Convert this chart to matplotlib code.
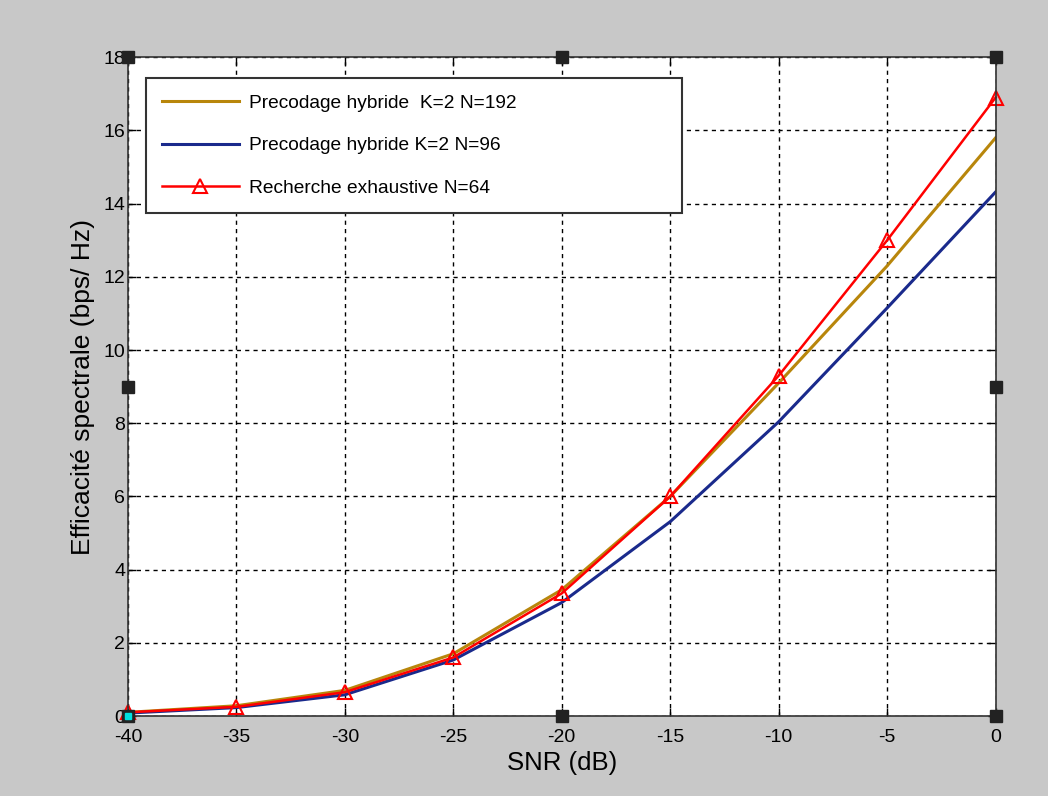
import numpy as np
import matplotlib.pyplot as plt

# données
snr = [-40, -35, -30, -25, -20, -15, -10, -5, 0]
hyb_192 = [0.10, 0.28, 0.70, 1.70, 3.45, 6.00, 9.10, 12.30, 15.80]
hyb_96 = [0.08, 0.23, 0.58, 1.53, 3.10, 5.31, 8.04, 11.15, 14.32]
exhaustive_64 = [0.10, 0.25, 0.65, 1.60, 3.35, 6.00, 9.30, 13.00, 16.90]

labels = ['Precodage hybride  K=2 N=192',
          'Precodage hybride K=2 N=96',
          'Recherche exhaustive N=64']

plt.rcParams['font.family'] = ['Liberation Sans', 'DejaVu Sans']
plt.rcParams['axes.unicode_minus'] = False

fig = plt.figure(figsize=(10.48, 7.96), dpi=100, facecolor='#c8c8c8')
ax = fig.add_axes([0.122, 0.1005, 0.828, 0.8275])
ax.set_facecolor('white')

ax.plot(snr, hyb_192, color='#b8860b', lw=2.2, label=labels[0])
ax.plot(snr, hyb_96, color='#1a2a8c', lw=2.2, label=labels[1])
ax.plot(snr, exhaustive_64, color='#ff0000', lw=1.8, marker='^', ms=10,
        mfc='none', mec='#ff0000', mew=1.5, label=labels[2], clip_on=False)

ax.set_xlim(-40, 0)
ax.set_ylim(0, 18)
ax.set_xticks(np.arange(-40, 1, 5))
ax.set_yticks(np.arange(0, 19, 2))
ax.tick_params(direction='in', top=True, right=True, labelsize=14,
               length=6, width=1)
ax.tick_params(axis='x', pad=9)
ax.tick_params(axis='y', pad=2)
ax.grid(True, color='black', linestyle=(0, (3, 3)), linewidth=1)
for s in ax.spines.values():
    s.set_linewidth(1.2)
    s.set_color('#333333')

ax.set_xlabel('SNR (dB)', fontsize=18.5, labelpad=4)
ax.set_ylabel('Efficacité spectrale (bps/ Hz)', fontsize=19, labelpad=6)

leg = ax.legend(loc='upper left', bbox_to_anchor=(0.0207, 0.768, 0.618, 0.2),
                mode='expand', fontsize=13.8, handlelength=4,
                handletextpad=0.55, labelspacing=1.3, borderpad=0.85,
                fancybox=False, framealpha=1, edgecolor='#333333',
                borderaxespad=0)
leg.get_frame().set_linewidth(1.5)

# poignées de sélection (style MATLAB)
hx = [0, 0.5, 1, 0, 1, 0, 0.5, 1]
hy = [1, 1, 1, 0.5, 0.5, 0, 0, 0]
ax.plot(hx, hy, 's', color='#222222', ms=8, transform=ax.transAxes,
        clip_on=False, zorder=5)
ax.plot([0], [0], 's', color='#00e0e0', ms=5, transform=ax.transAxes,
        clip_on=False, zorder=6)

fig.savefig('out.png', dpi=100, facecolor=fig.get_facecolor())
